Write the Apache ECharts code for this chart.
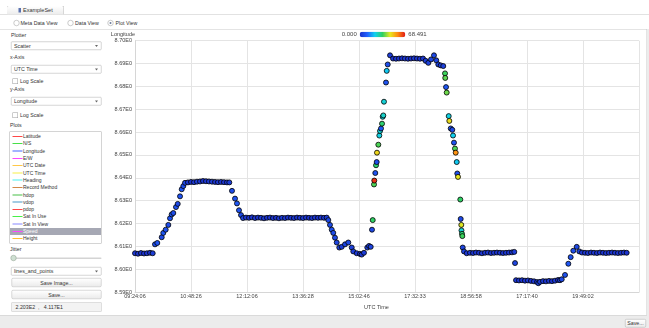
<!DOCTYPE html>
<html>
<head>
<meta charset="utf-8">
<script src="https://cdn.jsdelivr.net/npm/echarts@6/dist/echarts.min.js"></script>
<style>
html,body{margin:0;padding:0;width:649px;height:328px;overflow:hidden;background:#fff;}
#ui{position:absolute;left:0;top:0;width:1298px;height:656px;transform:scale(0.5);transform-origin:0 0;font-family:"Liberation Sans",Arial,sans-serif;font-size:10.5px;color:#333;}
#ui div{position:absolute;box-sizing:border-box;white-space:pre;}
.lbl{height:14px;line-height:14px;}
.combo{left:22px;width:181px;height:17px;border:1px solid #aaa;background:#fff;border-radius:2px;padding-left:5px;line-height:15px;}
.combo:after{content:'';position:absolute;right:6px;top:6px;border-left:3px solid transparent;border-right:3px solid transparent;border-top:4px solid #666;}
.btn{left:23px;width:180px;height:18px;border:1px solid #b0b0b0;border-radius:3px;background:linear-gradient(#fff,#ebebeb);text-align:center;line-height:16px;}
.chk{width:11px;height:11px;border:1.5px solid #999;background:#fff;border-radius:0;}
.radio{width:12px;height:12px;border:1px solid #999;border-radius:50%;background:#fff;}
.item{left:0;width:182px;height:14.6px;line-height:14.6px;padding-left:26px;font-size:10px;}
.item .ln{left:5px;top:6px;width:20px;height:2px;}
</style>
</head>
<body>
<div id="ui">
  <div style="left:0;top:28px;width:1298px;height:1px;background:#c4c4c4;"></div>
  <div style="left:13px;top:11px;width:115px;height:18px;border:1px solid #b4b4b4;border-bottom:none;border-radius:4px 4px 0 0;background:linear-gradient(#fff,#ececec);"></div>
  <div style="left:37px;top:16px;width:5px;height:9px;background:#5a72b0;"></div>
  <div class="lbl" style="left:46px;top:13px;font-size:11px;">ExampleSet</div>

  <div class="radio" style="left:27px;top:40px;"></div>
  <div class="lbl" style="left:41px;top:39px;">Meta Data View</div>
  <div class="radio" style="left:135px;top:40px;"></div>
  <div class="lbl" style="left:150px;top:39px;">Data View</div>
  <div class="radio" style="left:215px;top:40px;"></div>
  <div style="left:219px;top:44px;width:4px;height:4px;border-radius:50%;background:#6a7a9a;"></div>
  <div class="lbl" style="left:231px;top:39px;">Plot View</div>

  <div style="left:0;top:58px;width:1294px;height:1px;background:#c8c8c8;"></div>
  <div style="left:1293px;top:58px;width:1px;height:572px;background:#c8c8c8;"></div>
  <div style="left:1294px;top:58px;width:4px;height:598px;background:#ececec;"></div>

  <div class="lbl" style="left:22px;top:62px;">Plotter</div>
  <div class="combo" style="top:83px;">Scatter</div>
  <div class="lbl" style="left:20px;top:107px;">x-Axis</div>
  <div class="combo" style="top:130px;">UTC Time</div>
  <div class="chk" style="left:25px;top:157px;"></div>
  <div class="lbl" style="left:40px;top:155px;">Log Scale</div>
  <div class="lbl" style="left:20px;top:170px;">y-Axis</div>
  <div class="combo" style="top:194px;">Longitude</div>
  <div class="chk" style="left:25px;top:225px;"></div>
  <div class="lbl" style="left:40px;top:223px;">Log Scale</div>
  <div class="lbl" style="left:20px;top:243px;">Plots</div>
  <div id="plotList" style="left:19px;top:263px;width:184px;height:224px;border:1px solid #aaa;background:#fff;"></div>

  <div class="lbl" style="left:20px;top:491px;">Jitter</div>
  <div style="left:24px;top:515px;width:179px;height:3px;border-radius:2px;background:#d4d4d4;"></div>
  <div style="left:21px;top:510px;width:12px;height:12px;border-radius:50%;border:1px solid #8a9a8a;background:#cfe0d2;"></div>
  <div class="combo" style="top:534px;">lines_and_points</div>
  <div class="btn" style="top:556px;">Save Image...</div>
  <div class="btn" style="top:580px;">Save...</div>
  <div style="left:23px;top:605px;width:180px;height:18px;border:1px solid #c4c4c4;background:#f3f3f3;padding-left:7px;line-height:16px;">2.203E2  ,   4.117E1</div>

  <div style="left:0;top:630px;width:1294px;height:26px;background:#ececec;border-top:1px solid #c8c8c8;"></div>
  <div class="btn" style="left:1250px;top:638px;width:42px;height:17px;line-height:15px;">Save...</div>
</div>
<div id="chart" style="position:absolute;left:104px;top:29px;width:542px;height:286px;"></div>
<script>
// ---- UI list (attribute names shown in the "Plots" box) ----
const plotNames = ['Latitude','N/S','Longitude','E/W','UTC Date','UTC Time','Heading','Record Method','hdop','vdop','pdop','Sat In Use','Sat In View','Speed','Height'];
const plotColors = ['#ff4848','#48e048','#4868ff','#ff48ff','#ffc848','#f8f048','#48f0f0','#d08848','#48c048','#4898c8','#ff4848','#48f048','#8888ff','#ff48ff','#ffc030'];
const listEl = document.getElementById('plotList');
plotNames.forEach(function(n, i){
  const d = document.createElement('div');
  d.className = 'item';
  d.style.top = (1.7 + i * 14.6) + 'px';
  if (n === 'Speed') { d.style.background = '#a6a8b4'; d.style.color = '#fff'; }
  d.textContent = n;
  const l = document.createElement('div');
  l.className = 'ln';
  l.style.background = plotColors[i];
  d.appendChild(l);
  listEl.appendChild(d);
});

// ---- chart data ----
const tickLabels = ['09:24:06','10:48:26','12:12:06','13:36:28','15:02:46','17:32:33','18:56:58','17:17:40','19:49:02',''];

const utcPos = [
0.000,0.054,0.107,0.161,0.214,0.268,0.316,
0.357,0.398,0.477,0.505,0.548,0.595,0.625,0.655,0.684,0.732,0.763,0.804,0.834,0.863,0.893,
0.946,1.000,1.054,1.107,1.161,1.214,1.268,1.321,1.375,1.429,1.482,1.536,1.589,1.643,1.684,
1.732,1.786,1.821,1.857,1.893,1.929,
1.982,2.036,2.089,2.143,2.196,2.250,2.304,2.357,2.411,2.464,2.518,2.571,2.625,2.679,2.732,2.786,2.839,2.893,2.946,3.000,3.054,3.107,3.161,3.214,3.268,3.321,3.375,3.423,
3.452,3.482,3.513,3.541,3.571,3.602,3.648,3.691,3.750,3.809,3.870,3.898,3.959,4.018,4.048,4.089,4.148,4.179,4.209,
4.232,4.245,4.268,4.273,4.291,4.304,4.316,4.321,4.345,4.363,4.375,4.393,4.411,4.423,4.434,4.446,4.482,4.495,4.513,4.554,
4.607,4.661,4.714,4.768,4.821,4.875,4.929,4.982,5.036,5.089,5.143,
5.190,5.238,5.286,5.339,5.380,5.416,5.460,5.505,
5.536,5.540,5.554,5.566,5.602,5.613,5.638,5.666,5.679,5.696,5.714,5.727,5.745,5.755,5.768,5.809,5.816,5.827,5.830,5.839,5.845,5.852,5.875,5.923,
5.982,6.036,6.089,6.143,6.196,6.250,6.304,6.357,6.411,6.464,6.518,6.571,6.625,6.679,6.732,6.773,
6.786,
6.804,6.857,6.911,6.964,7.018,7.071,7.125,7.179,7.202,7.232,7.286,7.339,7.393,7.446,7.500,7.554,7.589,
7.620,7.679,7.738,7.780,7.827,7.888,7.934,
7.982,8.036,8.089,8.143,8.196,8.250,8.304,8.357,8.411,8.464,8.518,8.571,8.625,8.679,8.732,8.780
];

const longitude = [
8.6070,8.6068,8.6071,8.6069,8.6070,8.6072,8.6070,
8.6109,8.6115,8.6140,8.6159,8.6173,8.6194,8.6223,8.6240,8.6246,8.6272,8.6286,8.6319,8.6350,8.6364,8.6378,
8.6380,8.6382,8.6381,8.6383,8.6384,8.6386,8.6385,8.6384,8.6383,8.6382,8.6381,8.6382,8.6381,8.6380,8.6380,
8.6343,8.6309,8.6288,8.6258,8.6237,8.6224,
8.6226,8.6225,8.6227,8.6224,8.6226,8.6225,8.6223,8.6225,8.6226,8.6224,8.6225,8.6223,8.6225,8.6224,8.6226,8.6225,8.6224,8.6226,8.6225,8.6224,8.6226,8.6225,8.6224,8.6226,8.6225,8.6226,8.6225,8.6226,
8.6215,8.6194,8.6173,8.6159,8.6138,8.6117,8.6095,8.6098,8.6109,8.6117,8.6095,8.6078,8.6070,8.6067,8.6064,8.6072,8.6095,8.6102,8.6098,
8.6173,8.6215,8.6371,8.6388,8.6421,8.6455,8.6469,8.6510,8.6545,8.6585,8.6605,8.6616,8.6637,8.6667,8.6673,8.6733,8.6817,8.6868,8.6896,8.6936,
8.6922,8.6921,8.6922,8.6923,8.6922,8.6921,8.6922,8.6923,8.6922,8.6921,8.6922,
8.6912,8.6903,8.6918,8.6936,8.6914,8.6896,8.6892,8.6889,
8.6857,8.6837,8.6797,8.6773,8.6670,8.6649,8.6616,8.6610,8.6585,8.6554,8.6528,8.6510,8.6469,8.6419,8.6404,8.6305,8.6220,8.6194,8.6170,8.6155,8.6145,8.6095,8.6078,8.6070,
8.6072,8.6071,8.6073,8.6072,8.6070,8.6072,8.6073,8.6071,8.6072,8.6073,8.6072,8.6071,8.6072,8.6073,8.6074,8.6076,
8.6027,
8.5952,8.5951,8.5952,8.5950,8.5951,8.5949,8.5947,8.5944,8.5939,8.5945,8.5948,8.5947,8.5949,8.5948,8.5950,8.5953,8.5952,
8.5956,8.5975,8.6024,8.6053,8.6081,8.6098,8.6078,
8.6073,8.6072,8.6071,8.6073,8.6072,8.6071,8.6073,8.6072,8.6071,8.6072,8.6073,8.6072,8.6071,8.6072,8.6073,8.6072
];

const speed = [
2,1,2,1,2,1,3,
7,8,6,9,8,7,8,9,7,8,6,8,9,7,6,
2,1,2,3,2,1,2,2,3,1,2,2,1,2,3,
7,8,9,8,7,5,
2,1,2,2,1,3,2,1,2,2,1,2,3,2,1,2,2,1,2,3,2,1,2,2,1,2,2,3,
6,7,8,7,6,5,4,3,5,6,4,3,2,1,2,3,4,3,5,
6,34,36,66,8,33,7,48,36,24,25,9,33,24,26,25,8,22,7,3,
1,2,1,1,2,1,1,2,1,1,2,
3,4,5,6,5,4,3,4,
35,37,9,38,24,47,8,6,23,8,36,56,22,7,46,34,6,45,25,33,35,5,4,2,
2,1,2,1,2,1,2,1,2,1,2,1,2,1,2,3,
5,
2,1,2,1,2,1,2,3,4,3,2,1,2,1,2,1,3,
6,8,9,8,7,6,4,
2,1,2,1,2,1,2,1,2,1,2,1,2,1,2,1
];

const speedMin = 0;
const speedMax = 68.491;
const speedColors = ['#1c30c8','#2060ff','#10d0f0','#30d060','#e8e820','#ff8a10','#e01818'];

const points = utcPos.map(function(x, i){ return [x, longitude[i], speed[i]]; });

const chart = echarts.init(document.getElementById('chart'), null, {renderer:'canvas'});
chart.setOption({
  animation: false,
  backgroundColor: 'transparent',
  textStyle: {fontFamily: 'Liberation Sans, Arial, sans-serif'},
  grid: {left: 31, right: 7, top: 11.7, bottom: 15.7},
  xAxis: {
    type: 'value', min: 0, max: 9, interval: 1,
    name: 'UTC Time', nameLocation: 'middle', nameGap: 7,
    nameTextStyle: {fontSize: 5.5, color: '#444', padding: [0, 21, 0, 0]},
    axisLine: {lineStyle: {color: '#d6d6d6', width: 1}},
    axisTick: {show: false},
    axisLabel: {fontSize: 5.5, color: '#444', margin: 1, formatter: function(v){ return tickLabels[Math.round(v)] || ''; }},
    splitLine: {lineStyle: {color: '#e4e4e4', width: 1}}
  },
  yAxis: {
    type: 'value', min: 8.59, max: 8.70, interval: 0.01,
    name: 'Longitude', nameLocation: 'end', nameGap: 3,
    nameTextStyle: {fontSize: 5.5, color: '#444', align: 'right'},
    axisLine: {show: true, lineStyle: {color: '#d6d6d6', width: 1}},
    axisTick: {show: false},
    axisLabel: {fontSize: 5.5, color: '#444', margin: 3, formatter: function(v){ return v.toFixed(2) + 'E0'; }},
    splitLine: {lineStyle: {color: '#e4e4e4', width: 1}}
  },
  visualMap: {
    type: 'continuous', min: speedMin, max: speedMax, dimension: 2, seriesIndex: 0,
    orient: 'horizontal', left: 237.7, top: 2.5, padding: 0,
    itemWidth: 5.3, itemHeight: 45.6, calculable: false,
    text: ['68.491', '0.000'], textGap: 3,
    textStyle: {fontSize: 6, color: '#444'},
    inRange: {color: speedColors}
  },
  series: [{
    type: 'scatter',
    data: points,
    symbolSize: 5,
    itemStyle: {borderColor: '#000', borderWidth: 0.8, opacity: 1}
  }]
});
</script>
</body>
</html>
